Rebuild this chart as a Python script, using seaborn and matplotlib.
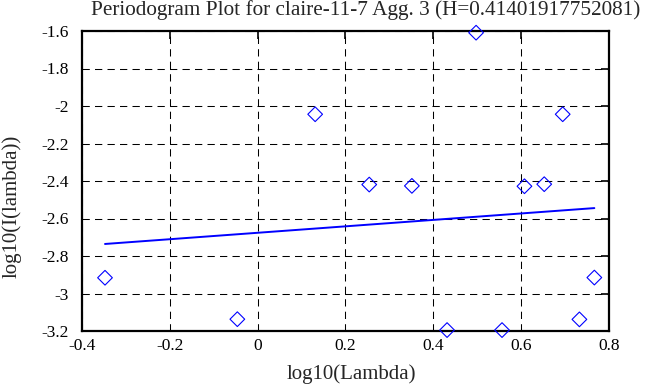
import numpy as np
import pandas as pd
import matplotlib
matplotlib.use("Agg")
import matplotlib.pyplot as plt
import seaborn as sns

# periodogram points
log_lambda = [-0.347, -0.046, 0.131, 0.254, 0.351, 0.431, 0.497,
              0.556, 0.607, 0.652, 0.694, 0.732, 0.766]
log_i = [-2.916, -3.137, -2.044, -2.419, -2.426, -3.195, -1.609,
         -3.195, -2.428, -2.417, -2.044, -3.138, -2.915]

x_ticks = [-0.4, -0.2, 0.0, 0.2, 0.4, 0.6, 0.8]
x_tick_labels = ["-0.4", "-0.2", "0", "0.2", "0.4", "0.6", "0.8"]
y_ticks = [-1.6, -1.8, -2.0, -2.2, -2.4, -2.6, -2.8, -3.0, -3.2]
y_tick_labels = ["-1.6", "-1.8", "-2", "-2.2", "-2.4", "-2.6", "-2.8", "-3", "-3.2"]

title = "Periodogram Plot for claire-11-7 Agg. 3 (H=0.41401917752081)"

sns.set_style("white")
plt.rcParams["font.family"] = ["Liberation Serif", "DejaVu Serif"]
plt.rcParams["axes.unicode_minus"] = False

df = pd.DataFrame({"x": log_lambda, "y": log_i})

# least squares fit, drawn over the data range
slope, intercept = np.polyfit(df["x"], df["y"], 1)
fit = pd.DataFrame({"x": [df["x"].min(), df["x"].max()]})
fit["y"] = slope * fit["x"] + intercept

fig = plt.figure(figsize=(6.53, 3.87), dpi=100)
ax = fig.add_axes([81.7 / 653, 1 - 331 / 387, (609.3 - 81.7) / 653, (331 - 31) / 387])

sns.lineplot(data=fit, x="x", y="y", ax=ax, color="#0000ff", linewidth=1.4, zorder=3)
sns.scatterplot(data=df, x="x", y="y", ax=ax, marker="D", s=56,
                facecolors="none", edgecolor="#0000ff", linewidth=0.8,
                clip_on=False, zorder=4)

ax.set_xlim(-0.4, 0.8)
ax.set_ylim(-3.2, -1.6)
ax.set_xticks(x_ticks)
ax.set_xticklabels(x_tick_labels)
ax.set_yticks(y_ticks)
ax.set_yticklabels(y_tick_labels)

ax.grid(True, color="black", linestyle=(0, (7, 5)), linewidth=0.75)
ax.tick_params(direction="in", length=6, width=1.2, colors="black",
               top=True, right=True, labelsize=12.5)
ax.tick_params(axis="y", pad=9)
ax.tick_params(axis="x", pad=5)
for sp in ax.spines.values():
    sp.set_color("black")
    sp.set_linewidth(1.6)

ax.set_xlabel("log10(Lambda)", fontsize=15)
ax.set_ylabel("log10(I(lambda))", fontsize=15)
ax.xaxis.set_label_coords((351 - 81.7) / 527.6, (331 - 364) / 300)
ax.yaxis.set_label_coords((22 - 81.7) / 527.6, (331 - 206) / 300)
fig.text(366 / 653, 1 - 10 / 387, title, ha="center", va="center", fontsize=15.3)

fig.savefig("out.png", dpi=100)
